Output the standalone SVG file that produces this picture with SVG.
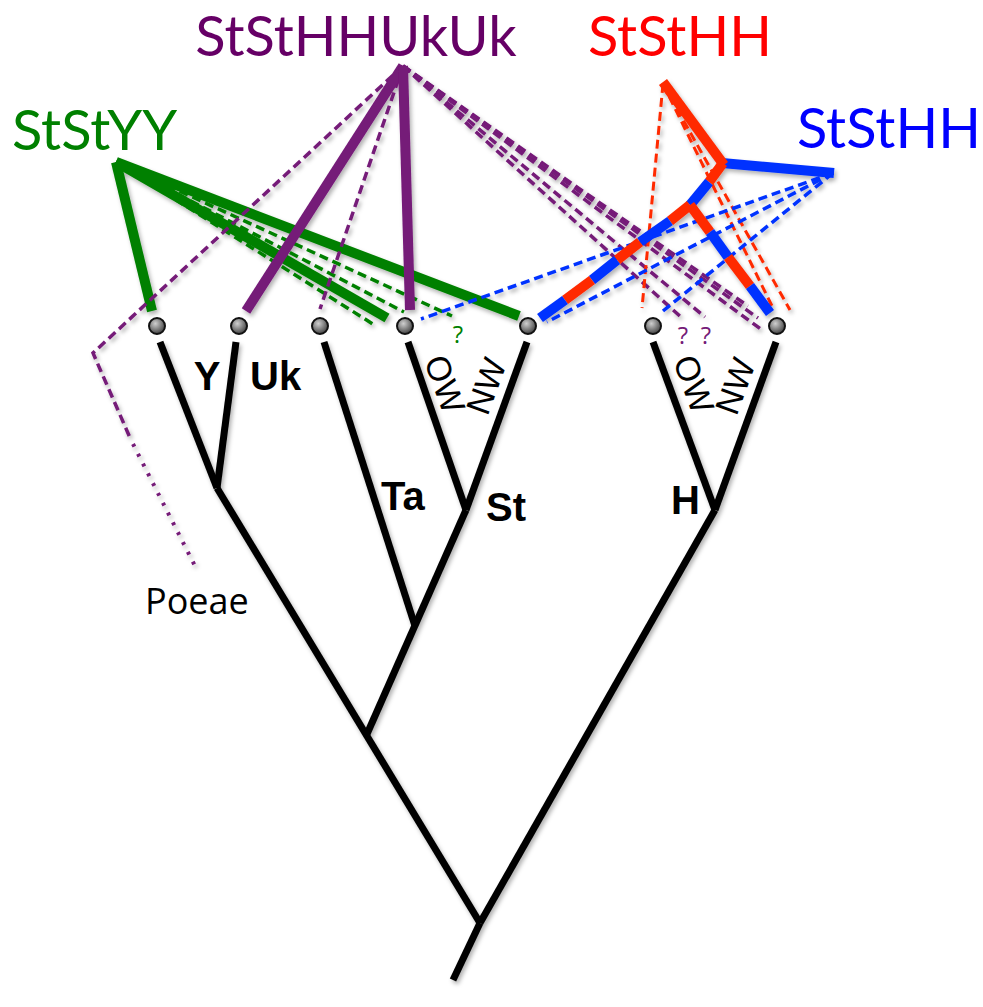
<svg xmlns="http://www.w3.org/2000/svg" width="983" height="1007" viewBox="0 0 983 1007">
  <defs>
    <filter id="sh" x="-20%" y="-20%" width="140%" height="140%">
      <feDropShadow dx="2" dy="3" stdDeviation="2" flood-color="#000" flood-opacity="0.3"/>
    </filter>
    <radialGradient id="dotg" cx="40%" cy="35%" r="65%">
      <stop offset="0" stop-color="#cfcfcf"/>
      <stop offset="1" stop-color="#444"/>
    </radialGradient>
  </defs>
  <style>
    .tree{stroke:#000;stroke-width:7;fill:none;stroke-linecap:butt}
    .dot{fill:url(#dotg);stroke:#111;stroke-width:2}
    .lbl{font-family:"Liberation Sans",Arial,sans-serif;font-weight:bold;font-size:40px;fill:#000}
    .ow{font-family:"Liberation Sans",Arial,sans-serif;font-size:34px;fill:#000}
    .title{font-family:Lato,"Open Sans",sans-serif;font-size:56px}
    .q{font-family:"Open Sans","Noto Sans",sans-serif;font-size:24px}
    .gs{stroke:#008000;stroke-width:10;fill:none}
    .gd{stroke:#008000;stroke-width:3.5;fill:none;stroke-dasharray:9 5}
    .ps{stroke:#751a78;stroke-width:10;fill:none}
    .pd{stroke:#751a78;stroke-width:3.5;fill:none;stroke-dasharray:9 5}
    .pdot{stroke:#751a78;stroke-width:4;fill:none;stroke-dasharray:3 8}
    .rd{stroke:#ff2a00;stroke-width:3;fill:none;stroke-dasharray:9 5}
    .bd{stroke:#0033ff;stroke-width:3.5;fill:none;stroke-dasharray:9 5}
    .r{stroke:#ff2a00;stroke-width:10;fill:none}
    .b{stroke:#0033ff;stroke-width:10;fill:none}
  </style>

  <g id="tree" filter="url(#sh)">
    <path class="tree" d="M217,488 L480,923"/>
    <path class="tree" d="M160,342 L217,488"/>
    <path class="tree" d="M236,342 L217,488"/>
    <path class="tree" d="M324,342 L415,626"/>
    <path class="tree" d="M466,510 L367,734"/>
    <path class="tree" d="M408,342 L466,510"/>
    <path class="tree" d="M527,342 L466,510"/>
    <path class="tree" d="M715,510 L480,923"/>
    <path class="tree" d="M653,342 L715,510"/>
    <path class="tree" d="M776,342 L715,510"/>
    <path class="tree" d="M480,923 L453,980"/>
  </g>

  <g id="connectors" filter="url(#sh)">
    <!-- green StStYY -->
    <path class="gd" d="M116,162 L376,326"/>
    <path class="gd" d="M116,162 L404,312"/>
    <path class="gd" d="M116,162 L452,316"/>
    <path class="gs" d="M116,162 L152,311"/>
    <path class="gs" d="M116,162 L387,318"/>
    <path class="gs" d="M116,162 L519,316"/>
    <!-- purple StStHHUkUk -->
    <path class="pd" d="M403,66 L93,353 L131,440"/>
    <path class="pdot" d="M133,444 L195,566"/>
    <path class="pd" d="M403,66 L320,309"/>
    <path class="pd" d="M403,66 L682,318"/>
    <path class="pd" d="M403,66 L705,317"/>
    <path class="pd" d="M403,66 L748,306"/>
    <path class="pd" d="M403,66 L758,318"/>
    <path class="pd" d="M403,66 L762,330"/>
    <path class="ps" d="M403,66 L246,311"/>
    <path class="ps" d="M403,66 L410,310"/>
    <!-- red dashed -->
    <path class="rd" d="M663,84 L642,308"/>
    <path class="rd" d="M663,84 L772,306"/>
    <path class="rd" d="M663,84 L790,310"/>
    <!-- blue dashed -->
    <path class="bd" d="M833,173 L421,319"/>
    <path class="bd" d="M833,173 L547,322"/>
    <path class="bd" d="M833,173 L663,311"/>
    <!-- red / blue thick -->
    <path class="b" d="M722,163 L834,173"/>
    <path class="r" d="M663,82 L724,165"/>
    <path class="r" d="M723,163 L709,182"/>
    <path class="b" d="M709,182 L690,205"/>
    <path class="r" d="M690,205 L670,221"/>
    <path class="b" d="M670,221 L640,242"/>
    <path class="r" d="M640,242 L617,260"/>
    <path class="b" d="M617,260 L592,280"/>
    <path class="r" d="M592,280 L565,300"/>
    <path class="b" d="M565,300 L540,318"/>
    <path class="r" d="M690,205 L710,232"/>
    <path class="b" d="M710,232 L728,257"/>
    <path class="r" d="M728,257 L750,286"/>
    <path class="b" d="M750,286 L770,313"/>
  </g>

  <g id="nodes">
    <g id="n1"><circle class="dot" cx="157" cy="326" r="8"/></g>
    <g id="n2"><circle class="dot" cx="239" cy="326" r="8"/></g>
    <g id="n3"><circle class="dot" cx="320" cy="326" r="8"/></g>
    <g id="n4"><circle class="dot" cx="405" cy="326" r="8"/></g>
    <g id="n5"><circle class="dot" cx="528" cy="326" r="8"/></g>
    <g id="n6"><circle class="dot" cx="653" cy="326" r="8"/></g>
    <g id="n7"><circle class="dot" cx="777" cy="326" r="8"/></g>
  </g>

  <g id="labels">
    <text class="lbl" x="207" y="390" text-anchor="middle">Y</text>
    <text class="lbl" x="250" y="390">Uk</text>
    <text class="lbl" x="381" y="510">Ta</text>
    <text class="lbl" x="486" y="521">St</text>
    <text class="lbl" x="671" y="514">H</text>
    <text class="ow" transform="translate(445,384) rotate(70)" text-anchor="middle" dominant-baseline="central">OW</text>
    <text class="ow" transform="translate(486,386) rotate(-70)" text-anchor="middle" dominant-baseline="central">NW</text>
    <text class="ow" transform="translate(694,384) rotate(70)" text-anchor="middle" dominant-baseline="central">OW</text>
    <text class="ow" transform="translate(735,386) rotate(-70)" text-anchor="middle" dominant-baseline="central">NW</text>
    <text class="q" x="458" y="343" fill="#008000" text-anchor="middle">?</text>
    <text class="q" x="683" y="344" fill="#751a78" text-anchor="middle">?</text>
    <text class="q" x="706" y="344" fill="#751a78" text-anchor="middle">?</text>
    <text x="145" y="614" font-family="'Open Sans','Noto Sans',sans-serif" font-size="36" fill="#000">Poeae</text>
  </g>

  <g id="titles">
    <text class="title" x="12" y="150" fill="#008000">StStYY</text>
    <text class="title" x="356" y="56" fill="#660066" text-anchor="middle">StStHHUkUk</text>
    <text class="title" x="588" y="56" fill="#ff0000">StStHH</text>
    <text class="title" x="797" y="148" fill="#0000ff">StStHH</text>
  </g>
</svg>
